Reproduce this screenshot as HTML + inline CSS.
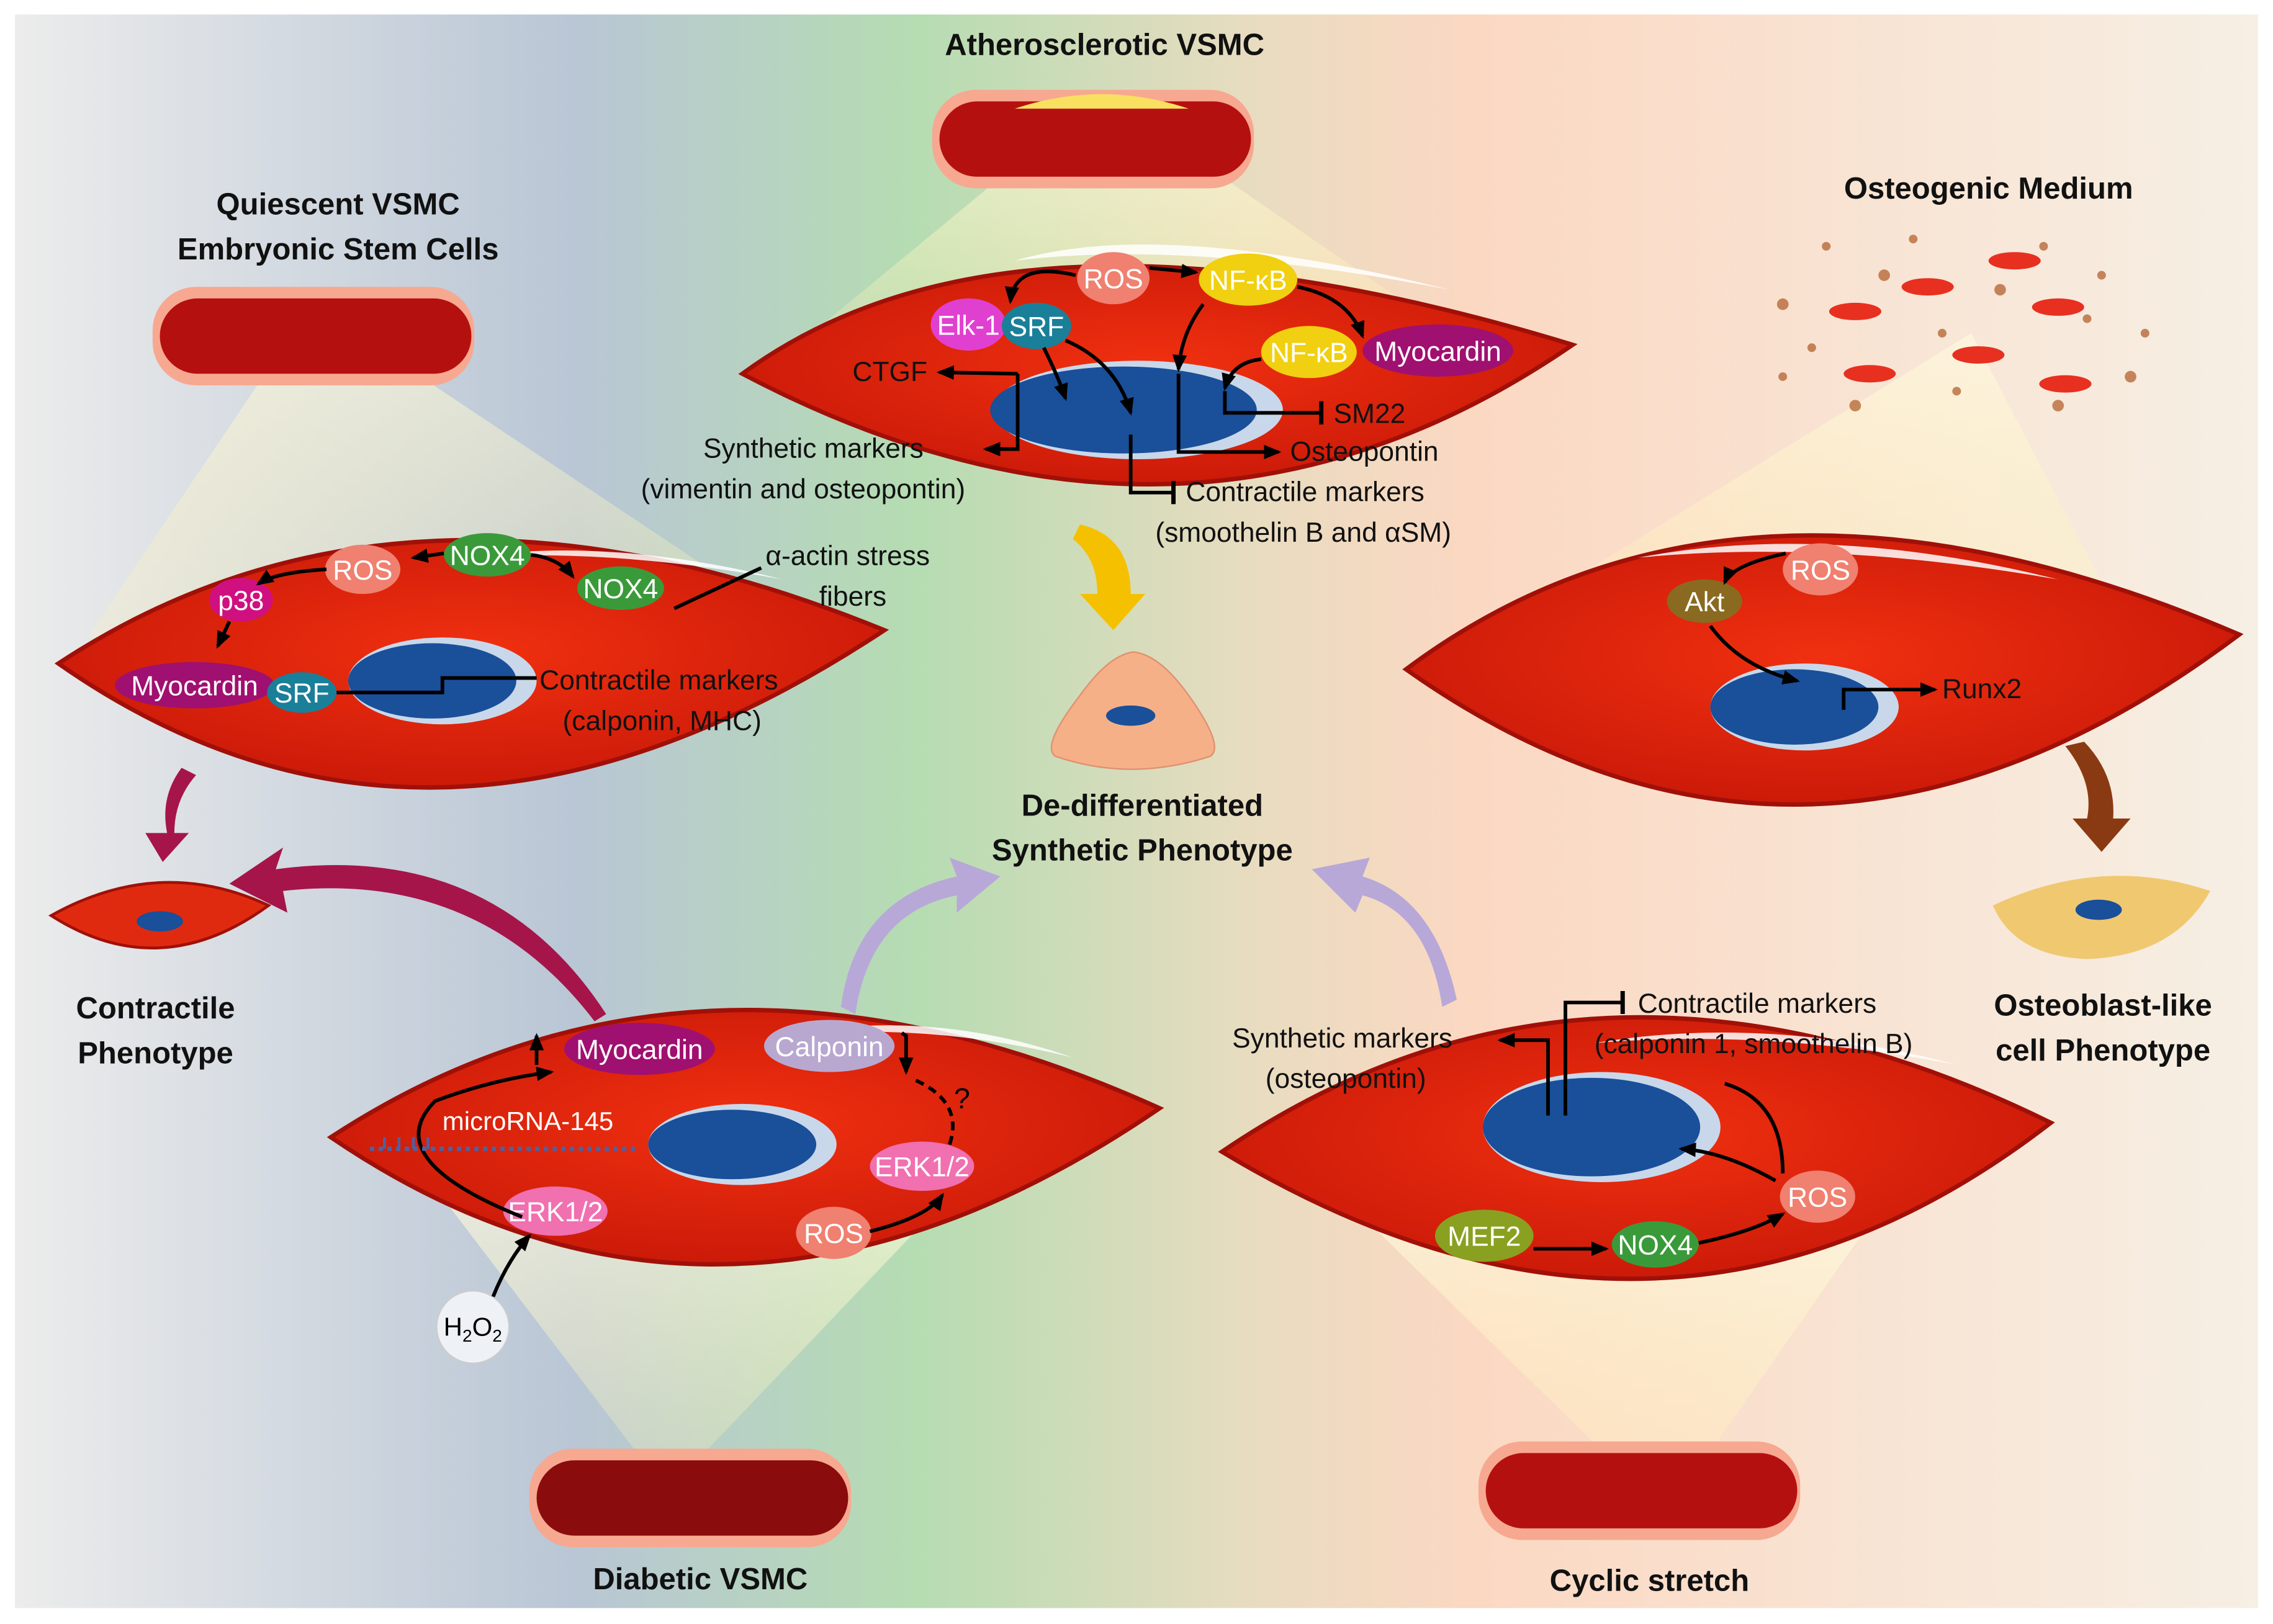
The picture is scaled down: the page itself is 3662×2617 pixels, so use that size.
<!DOCTYPE html>
<html><head><meta charset="utf-8"><style>
html,body{margin:0;padding:0;background:#fff}
svg{display:block}
text{font-family:"Liberation Sans",sans-serif}
</style></head><body>
<svg width="3662" height="2617" viewBox="0 0 1568 1121" xmlns="http://www.w3.org/2000/svg">
<defs>
<linearGradient id="bg" x1="0" x2="1" y1="0" y2="0">
<stop offset="0" stop-color="#ececec"/><stop offset="0.25" stop-color="#b9c6d5"/>
<stop offset="0.40" stop-color="#b5dcb2"/><stop offset="0.55" stop-color="#e8dcc0"/>
<stop offset="0.65" stop-color="#fbd8c2"/><stop offset="1" stop-color="#f6efe4"/>
</linearGradient>
<linearGradient id="cone" x1="0" x2="0" y1="0" y2="1">
<stop offset="0" stop-color="#fffbe0" stop-opacity="0.9"/><stop offset="1" stop-color="#fff3b0" stop-opacity="0.3"/>
</linearGradient>
<radialGradient id="cell" cx="0.5" cy="0.45" r="0.6">
<stop offset="0" stop-color="#f03010"/><stop offset="1" stop-color="#c81808"/>
</radialGradient>
<marker id="ar" markerUnits="userSpaceOnUse" markerWidth="12" markerHeight="10" refX="10" refY="5" orient="auto"><path d="M0,0 L12,5 L0,10z" fill="#000"/></marker>
<marker id="tb" markerUnits="userSpaceOnUse" markerWidth="4" markerHeight="16" refX="2" refY="8" orient="auto"><rect x="0" y="0" width="3" height="16" fill="#000"/></marker>
</defs>
<rect x="0" y="0" width="1568" height="1121" fill="#fff"/>
<rect x="10" y="10" width="1548" height="1100" fill="url(#bg)"/>

<!-- light cones -->
<path d="M760,65 L560,230 L1000,230 Z" fill="url(#cone)" opacity="0.8"/>
<path d="M215,210 L60,440 L560,440 Z" fill="url(#cone)" opacity="0.7"/>
<path d="M1360,230 L1020,440 L1470,440 Z" fill="url(#cone)" opacity="0.7"/>
<path d="M460,1030 L300,820 L660,820 Z" fill="url(#cone)" opacity="0.7"/>
<path d="M1150,1045 L930,830 L1300,830 Z" fill="url(#cone)" opacity="0.7"/>

<!-- vessels -->
<g>
<rect x="643" y="62" width="222" height="68" rx="30" fill="#f7a890"/><rect x="648" y="70" width="215" height="52" rx="26" fill="#b51010"/>
<path d="M700,75 Q760,55 820,75 Z" fill="#f8e060"/>
<rect x="105" y="198" width="222" height="68" rx="30" fill="#f7a890"/><rect x="110" y="206" width="215" height="52" rx="26" fill="#b51010"/>
<rect x="365" y="1000" width="222" height="68" rx="30" fill="#f7a890"/><rect x="370" y="1008" width="215" height="52" rx="26" fill="#8a0c0c"/>
<rect x="1020" y="995" width="222" height="68" rx="30" fill="#f7a890"/><rect x="1025" y="1003" width="215" height="52" rx="26" fill="#b51010"/>
</g>

<!-- cells -->
<g stroke="#a01008" stroke-width="3" fill="url(#cell)">
<path d="M512,258 Q700,120 1085,238 Q820,420 512,258Z"/>
<path d="M40,458 Q280,300 610,435 Q300,640 40,458Z"/>
<path d="M970,462 Q1200,290 1545,438 Q1250,660 970,462Z"/>
<path d="M228,785 Q480,620 800,765 Q500,970 228,785Z"/>
<path d="M843,795 Q1100,620 1415,775 Q1150,980 843,795Z"/>
</g>
<!-- highlights -->
<g fill="#fff" opacity="0.85">
<path d="M700,180 Q800,150 1000,200 Q820,165 700,180Z"/>
<path d="M320,385 Q420,370 540,400 Q420,378 320,385Z"/>
<path d="M1130,385 Q1260,360 1420,400 Q1260,372 1130,385Z"/>
<path d="M540,715 Q640,695 740,730 Q640,705 540,715Z"/>
<path d="M1100,720 Q1220,700 1350,735 Q1220,710 1100,720Z"/>
</g>
<!-- nuclei -->
<g>
<ellipse cx="785" cy="283" rx="100" ry="34" fill="#c8d8ea"/><ellipse cx="775" cy="283" rx="92" ry="30" fill="#1a4f9a"/>
<ellipse cx="305" cy="470" rx="65" ry="30" fill="#c8d8ea"/><ellipse cx="298" cy="470" rx="58" ry="26" fill="#1a4f9a"/>
<ellipse cx="1245" cy="488" rx="65" ry="30" fill="#c8d8ea"/><ellipse cx="1238" cy="488" rx="58" ry="26" fill="#1a4f9a"/>
<ellipse cx="512" cy="790" rx="65" ry="28" fill="#c8d8ea"/><ellipse cx="505" cy="790" rx="58" ry="24" fill="#1a4f9a"/>
<ellipse cx="1105" cy="778" rx="82" ry="38" fill="#c8d8ea"/><ellipse cx="1098" cy="778" rx="75" ry="34" fill="#1a4f9a"/>
</g>

<!-- small phenotype cells -->
<path d="M35,632 Q110,590 185,625 Q110,680 35,632Z" fill="#e02a10" stroke="#a01008" stroke-width="2"/>
<ellipse cx="110" cy="636" rx="16" ry="7" fill="#1a4f9a"/>
<path d="M782,450 Q800,452 820,480 Q845,515 835,522 Q780,540 728,522 Q718,515 745,480 Q765,452 782,450Z" fill="#f5b088" stroke="#e09070"/>
<ellipse cx="780" cy="494" rx="17" ry="7" fill="#1a4f9a"/>
<path d="M1375,625 Q1450,590 1525,615 Q1500,660 1440,662 Q1390,660 1375,625Z" fill="#f0c870"/>
<ellipse cx="1448" cy="628" rx="16" ry="7" fill="#1a4f9a"/>

<!-- big arrows -->
<path d="M745,362 Q780,370 780,410 L790,410 L768,435 L745,410 L757,410 Q757,385 740,372Z" fill="#f5c000"/>
<path d="M125,530 Q110,550 115,575 L100,575 L112,595 L130,575 L120,575 Q120,552 135,535Z" fill="#a5154a"/>
<path d="M418,700 Q340,580 190,600 L195,585 L158,610 L198,630 L195,615 Q330,600 410,705Z" fill="#a5154a"/>
<path d="M580,695 Q590,620 660,605 L655,592 L690,605 L660,630 L660,618 Q600,630 590,700Z" fill="#b8a8d8"/>
<path d="M1005,690 Q990,620 940,605 L945,592 L905,600 L935,630 L940,618 Q985,630 995,695Z" fill="#b8a8d8"/>
<path d="M1425,515 Q1445,540 1440,565 L1430,565 L1450,588 L1470,565 L1458,565 Q1460,535 1438,512Z" fill="#8a3a12"/>

<!-- osteogenic dots -->
<g fill="#b86a3a" opacity="0.8">
<circle cx="1230" cy="210" r="4"/><circle cx="1250" cy="240" r="3"/><circle cx="1300" cy="190" r="4"/><circle cx="1340" cy="230" r="3"/><circle cx="1380" cy="200" r="4"/><circle cx="1440" cy="220" r="3"/><circle cx="1470" cy="260" r="4"/><circle cx="1230" cy="260" r="3"/><circle cx="1280" cy="280" r="4"/><circle cx="1350" cy="270" r="3"/><circle cx="1420" cy="280" r="4"/><circle cx="1480" cy="230" r="3"/><circle cx="1260" cy="170" r="3"/><circle cx="1410" cy="170" r="3"/><circle cx="1320" cy="165" r="3"/><circle cx="1450" cy="190" r="3"/>
</g>
<g fill="#e83020">
<ellipse cx="1280" cy="215" rx="18" ry="6"/><ellipse cx="1330" cy="198" rx="18" ry="6"/><ellipse cx="1390" cy="180" rx="18" ry="6"/><ellipse cx="1420" cy="212" rx="18" ry="6"/><ellipse cx="1290" cy="258" rx="18" ry="6"/><ellipse cx="1365" cy="245" rx="18" ry="6"/><ellipse cx="1425" cy="265" rx="18" ry="6"/>
</g>

<!-- molecules -->
<g font-size="19" fill="#fff" text-anchor="middle">
<ellipse cx="768" cy="192" rx="25" ry="18" fill="#f08070"/><text x="768" y="199">ROS</text>
<ellipse cx="861" cy="193" rx="34" ry="18" fill="#f0d010"/><text x="861" y="200">NF-κB</text>
<ellipse cx="668" cy="224" rx="26" ry="18" fill="#e040d0"/><text x="668" y="231">Elk-1</text>
<ellipse cx="715" cy="225" rx="24" ry="16" fill="#1a7f99"/><text x="715" y="232">SRF</text>
<ellipse cx="903" cy="243" rx="33" ry="18" fill="#f0d010"/><text x="903" y="250">NF-κB</text>
<ellipse cx="992" cy="242" rx="52" ry="18" fill="#a01070"/><text x="992" y="249">Myocardin</text>
<ellipse cx="250" cy="393" rx="26" ry="17" fill="#f08070"/><text x="250" y="400">ROS</text>
<ellipse cx="336" cy="383" rx="30" ry="15" fill="#3a9a3a"/><text x="336" y="390">NOX4</text>
<ellipse cx="428" cy="406" rx="30" ry="15" fill="#3a9a3a"/><text x="428" y="413">NOX4</text>
<ellipse cx="166" cy="414" rx="22" ry="15" fill="#d01080"/><text x="166" y="421">p38</text>
<ellipse cx="134" cy="473" rx="55" ry="16" fill="#a01070"/><text x="134" y="480">Myocardin</text>
<ellipse cx="208" cy="478" rx="24" ry="14" fill="#1a7f99"/><text x="208" y="485">SRF</text>
<ellipse cx="1256" cy="393" rx="26" ry="18" fill="#f08070"/><text x="1256" y="400">ROS</text>
<ellipse cx="1176" cy="415" rx="26" ry="15" fill="#8a6a20"/><text x="1176" y="422">Akt</text>
<ellipse cx="441" cy="724" rx="52" ry="18" fill="#a01070"/><text x="441" y="731">Myocardin</text>
<ellipse cx="572" cy="722" rx="45" ry="18" fill="#b8a8d0"/><text x="572" y="729">Calponin</text>
<ellipse cx="636" cy="805" rx="36" ry="17" fill="#f070b0"/><text x="636" y="812">ERK1/2</text>
<ellipse cx="383" cy="836" rx="36" ry="17" fill="#f070b0"/><text x="383" y="843">ERK1/2</text>
<ellipse cx="575" cy="851" rx="26" ry="18" fill="#f08070"/><text x="575" y="858">ROS</text>
<ellipse cx="1254" cy="826" rx="26" ry="18" fill="#f08070"/><text x="1254" y="833">ROS</text>
<ellipse cx="1024" cy="853" rx="34" ry="18" fill="#8aa020"/><text x="1024" y="860">MEF2</text>
<ellipse cx="1142" cy="859" rx="30" ry="16" fill="#3a9a3a"/><text x="1142" y="866">NOX4</text>
<circle cx="326" cy="916" r="25" fill="#eef2f6" stroke="#ccc"/><text x="326" y="922" fill="#000" font-size="18">H<tspan font-size="12" dy="4">2</tspan><tspan dy="-4">O</tspan><tspan font-size="12" dy="4">2</tspan></text>
</g>

<!-- connectors -->
<g stroke="#000" stroke-width="2.5" fill="none">
<path d="M742,190 Q700,180 697,208" marker-end="url(#ar)"/>
<path d="M793,185 L825,188" marker-end="url(#ar)"/>
<path d="M895,198 Q930,205 940,232" marker-end="url(#ar)"/>
<path d="M830,210 Q815,230 813,255" marker-end="url(#ar)"/>
<path d="M870,248 Q850,250 845,268" marker-end="url(#ar)"/>
<path d="M720,240 Q730,260 735,275" marker-end="url(#ar)"/>
<path d="M735,235 Q770,250 780,285" marker-end="url(#ar)"/>
<path d="M702,258 L648,257" marker-end="url(#ar)"/>
<path d="M702,258 L702,310 L680,310" marker-end="url(#ar)"/>
<path d="M845,270 L845,285 L912,285" marker-end="url(#tb)"/>
<path d="M813,258 L813,312 L882,312" marker-end="url(#ar)"/>
<path d="M780,300 L780,340 L810,340" marker-end="url(#tb)"/>
<path d="M306,382 L285,385" marker-end="url(#ar)"/>
<path d="M366,383 Q385,385 395,398" marker-end="url(#ar)"/>
<path d="M225,393 Q190,395 178,403" marker-end="url(#ar)"/>
<path d="M158,429 L150,446" marker-end="url(#ar)"/>
<path d="M232,478 L305,478 L305,468 L370,468"/>
<path d="M465,420 L525,392"/>
<path d="M1232,382 Q1195,390 1190,402" marker-end="url(#ar)"/>
<path d="M1180,432 Q1200,460 1240,470" marker-end="url(#ar)"/>
<path d="M1272,490 L1272,476 L1335,476" marker-end="url(#ar)"/>
<path d="M360,840 Q260,800 300,760 Q340,745 380,740" marker-end="url(#ar)"/>
<path d="M370,735 L370,715" marker-end="url(#ar)"/>
<path d="M600,850 Q640,840 650,825" marker-end="url(#ar)"/>
<path d="M622,713 L625,715 L625,740" marker-end="url(#ar)"/>
<path d="M655,790 Q665,760 630,745" stroke-dasharray="6,4"/>
<path d="M340,895 Q350,870 365,853" marker-end="url(#ar)"/>
<path d="M1058,862 L1108,862" marker-end="url(#ar)"/>
<path d="M1172,858 Q1210,850 1230,838" marker-end="url(#ar)"/>
<path d="M1225,815 Q1190,795 1160,793" marker-end="url(#ar)"/>
<path d="M1230,810 Q1230,760 1190,748"/>
<path d="M1080,770 L1080,692 L1120,692" marker-end="url(#tb)"/>
<path d="M1068,770 L1068,718 L1035,718" marker-end="url(#ar)"/>
</g>
<path d="M255,793 L440,793" stroke="#5060a0" stroke-width="3" stroke-dasharray="3,3"/>
<path d="M265,793 L265,785 M275,793 L275,785 M285,793 L285,785 M295,793 L295,785" stroke="#5060a0" stroke-width="2"/>
<text x="305" y="780" font-size="18" fill="#fff">microRNA-145</text>
<text x="658" y="765" font-size="20" fill="#000">?</text>

<!-- labels -->
<g font-size="19" fill="#111">
<text x="588" y="263">CTGF</text>
<text x="485" y="316">Synthetic markers</text>
<text x="442" y="344">(vimentin and osteopontin)</text>
<text x="920" y="292">SM22</text>
<text x="890" y="318">Osteopontin</text>
<text x="818" y="346">Contractile markers</text>
<text x="797" y="374">(smoothelin B and αSM)</text>
<text x="528" y="390">α-actin stress</text>
<text x="565" y="418">fibers</text>
<text x="372" y="476">Contractile markers</text>
<text x="388" y="504">(calponin, MHC)</text>
<text x="1340" y="482">Runx2</text>
<text x="850" y="723">Synthetic markers</text>
<text x="873" y="751">(osteopontin)</text>
<text x="1130" y="699">Contractile markers</text>
<text x="1100" y="727">(calponin 1, smoothelin B)</text>
</g>
<g font-size="21" font-weight="bold" fill="#111" text-anchor="middle">
<text x="762" y="38">Atherosclerotic VSMC</text>
<text x="233" y="148">Quiescent VSMC</text>
<text x="233" y="179">Embryonic Stem Cells</text>
<text x="1372" y="137">Osteogenic Medium</text>
<text x="788" y="563">De-differentiated</text>
<text x="788" y="594">Synthetic Phenotype</text>
<text x="107" y="703">Contractile</text>
<text x="107" y="734">Phenotype</text>
<text x="1451" y="701">Osteoblast-like</text>
<text x="1451" y="732">cell Phenotype</text>
<text x="483" y="1097">Diabetic VSMC</text>
<text x="1138" y="1098">Cyclic stretch</text>
</g>
</svg>
</body></html>
